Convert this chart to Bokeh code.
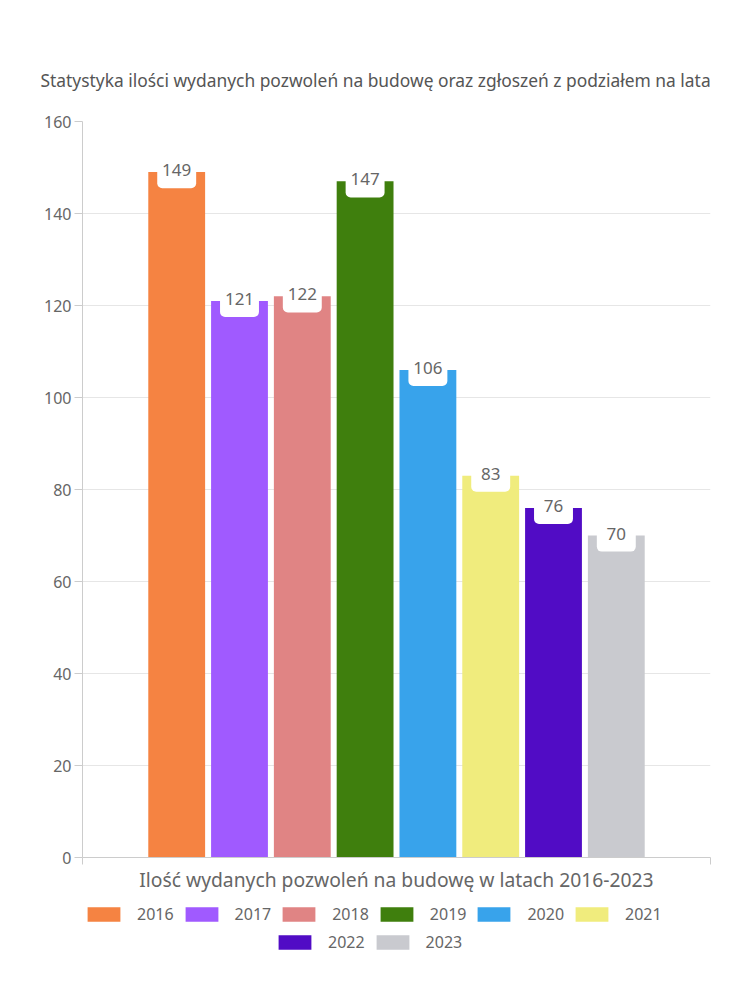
from bokeh.plotting import figure
from bokeh.layouts import column
from bokeh.models import Range1d, FixedTicker, Legend, LegendItem, Title
from bokeh.embed import file_html
from bokeh.resources import INLINE
from bokeh.core.properties import value

years = ["2016", "2017", "2018", "2019", "2020", "2021", "2022", "2023"]
counts = [149, 121, 122, 147, 106, 83, 76, 70]
colors = ["#F58342", "#A05AFF", "#E08484", "#3F7F0D", "#38A3EB", "#F0EC7D", "#510CC5", "#C9CACF"]
y_ticks = [0, 20, 40, 60, 80, 100, 120, 140, 160]
title_text = "Statystyka ilości wydanych pozwoleń na budowę oraz zgłoszeń z podziałem na lata"
x_label = "Ilość wydanych pozwoleń na budowę w latach 2016-2023"

FONT = "Noto Sans"
TXT = "#666666"

p = figure(width=750, height=895, x_range=Range1d(0, 10), y_range=Range1d(0, 160),
           output_backend="svg", toolbar_location=None,
           min_border_left=82, min_border_right=40, min_border_top=121, min_border_bottom=37)
p.outline_line_color = None
p.background_fill_color = "white"

xs = [i + 1.5 for i in range(len(years))]
bars = p.vbar(x=xs, top=counts, bottom=0, width=0.905, fill_color=colors, line_color=None)

# label boxes
p.vbar(x=xs, top=[c + 3.5 for c in counts], bottom=[c - 3.5 for c in counts], width=0.62,
       fill_color="white", line_color=None, border_radius=5)
p.text(x=xs, y=counts, text=[str(c) for c in counts], text_align="center", text_baseline="middle",
       text_font=value(FONT), text_font_size="17px", text_color=TXT, y_offset=-2)

# axes
p.yaxis.ticker = FixedTicker(ticks=y_ticks)
p.yaxis.major_tick_out = 8
p.yaxis.major_tick_in = 0
p.yaxis.minor_tick_line_color = None
p.yaxis.axis_line_color = "#cccccc"
p.yaxis.major_tick_line_color = "#cccccc"
p.yaxis.major_label_text_font = FONT
p.yaxis.major_label_text_font_size = "16px"
p.yaxis.major_label_text_color = TXT
p.yaxis.major_label_standoff = 3

p.xaxis.ticker = FixedTicker(ticks=[0, 10])
p.xaxis.major_label_overrides = {0: "", 10: ""}
p.xaxis.major_label_text_font_size = "0px"
p.xaxis.major_tick_out = 7
p.xaxis.major_tick_in = 0
p.xaxis.minor_tick_line_color = None
p.xaxis.axis_line_color = "#cccccc"
p.xaxis.major_tick_line_color = "#cccccc"
p.xaxis.axis_label = x_label
p.xaxis.axis_label_text_font = FONT
p.xaxis.axis_label_text_font_size = "19.3px"
p.xaxis.axis_label_text_font_style = "normal"
p.xaxis.axis_label_text_color = TXT
p.xaxis.axis_label_standoff = 1

p.ygrid.ticker = FixedTicker(ticks=y_ticks)
p.ygrid.grid_line_color = "#e6e6e6"
p.xgrid.ticker = FixedTicker(ticks=[0, 10])
p.xgrid.grid_line_color = "#e6e6e6"

p.title = Title(text=title_text, align="left", offset=-42, text_font=FONT,
                text_font_size="17.4px", text_font_style="normal", text_color="#555555", standoff=59)

# legend figure below the chart (its frame is aligned with the chart frame)
lf = figure(width=750, height=105, x_range=Range1d(0, 10), y_range=Range1d(1000, 1001),
            output_backend="svg", toolbar_location=None,
            x_axis_location=None, y_axis_location=None,
            min_border_left=0, min_border_right=0, min_border_top=0, min_border_bottom=0)
lf.outline_line_color = None
lf.xgrid.visible = False
lf.ygrid.visible = False
lbars = lf.vbar(x=xs, top=counts, bottom=0, width=0.905, fill_color=colors, line_color=None)


def make_legend(idx, loc):
    return Legend(items=[LegendItem(label=years[i], renderers=[lbars], index=i) for i in idx],
                  orientation="horizontal", location=loc, glyph_width=41, glyph_height=18,
                  label_width=34, label_height=18, label_standoff=13, spacing=7,
                  padding=5, margin=0, border_line_color=None, background_fill_alpha=0,
                  label_text_font=FONT, label_text_font_size="16px", label_text_color=TXT)


lf.add_layout(make_legend(range(0, 6), (1, 75)), "center")
lf.add_layout(make_legend(range(6, 8), (192, 47)), "center")

layout = column(p, lf, spacing=0)
open("out.html", "w").write(file_html(layout, INLINE))
